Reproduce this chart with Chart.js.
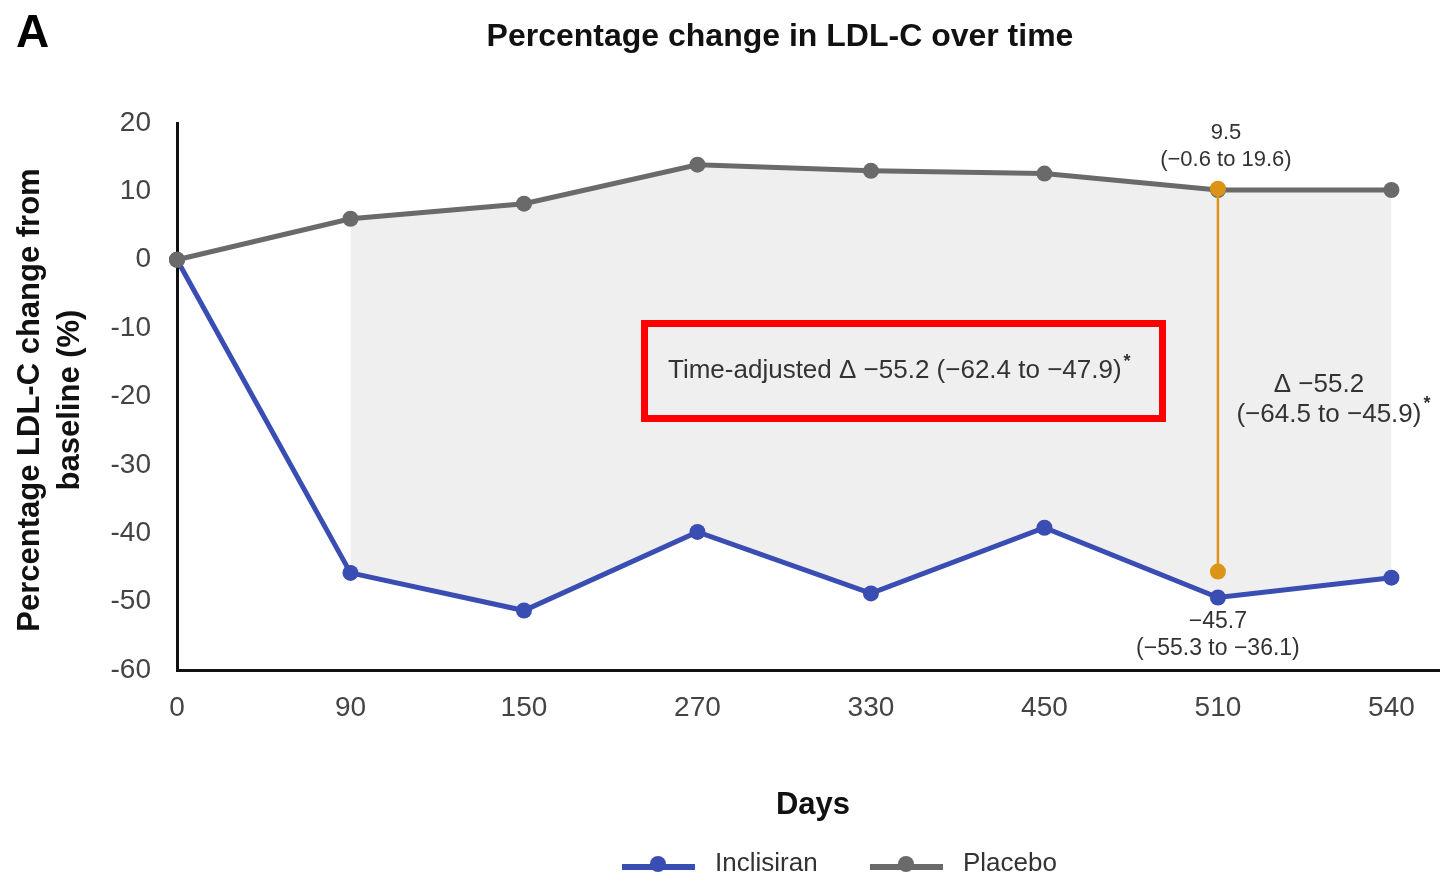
<!DOCTYPE html>
<html>
<head>
<meta charset="utf-8">
<script src="https://cdn.jsdelivr.net/npm/chart.js@4.4.1/dist/chart.umd.min.js"></script>
<style>
  html, body { margin: 0; padding: 0; background: #fff; }
  #graficoLdl { display: block; }
</style>
</head>
<body>
<canvas id="graficoLdl" width="1440" height="876"></canvas>
<script>
// Dados
const dias = ['0', '90', '150', '270', '330', '450', '510', '540'];
const inclisiran = [0, -45.8, -51.3, -39.8, -48.8, -39.2, -49.4, -46.5];
const placebo = [0, 6.0, 8.2, 13.9, 13.0, 12.6, 10.2, 10.2];
const diferencaIdx = 6;              // dia 510
const diferencaValores = [10.4, -45.6];
const yTicks = [20, 10, 0, -10, -20, -30, -40, -50, -60];

const corInclisiran = '#3a4db2';
const corPlacebo = '#6a6a6a';
const corLaranja = '#dc9416';
const fonte = '"Liberation Sans", Arial, sans-serif';

const pontos = arr => arr.map((y, i) => ({ x: i, y: y }));
// área sombreada começa no dia 90
const sombra = arr => arr.map((y, i) => ({ x: i, y: i === 0 ? null : y }));

// Textos e legenda desenhados à mão
const textosPlugin = {
  id: 'textos',
  afterDraw(chart) {
    const ctx = chart.ctx;
    const xs = chart.scales.x, ys = chart.scales.y;
    ctx.save();
    ctx.fillStyle = '#000';
    ctx.textBaseline = 'middle';

    // letra do painel
    ctx.font = 'bold 46px ' + fonte;
    ctx.textAlign = 'left';
    ctx.fillText('A', 16, 34);

    // título
    ctx.font = 'bold 32px ' + fonte;
    ctx.textAlign = 'center';
    ctx.fillStyle = '#111';
    ctx.fillText('Percentage change in LDL-C over time', 780, 37);

    // título eixo x
    ctx.font = 'bold 31px ' + fonte;
    ctx.fillText('Days', 813, 805);

    // título eixo y
    ctx.save();
    ctx.translate(30, 400);
    ctx.rotate(-Math.PI / 2);
    ctx.font = 'bold 31px ' + fonte;
    ctx.fillText('Percentage LDL-C change from', 0, 0);
    ctx.fillText('baseline (%)', 0, 40);
    ctx.restore();

    // anotações no dia 510
    const xd = xs.getPixelForValue(diferencaIdx);
    const yTopo = ys.getPixelForValue(diferencaValores[0]);
    const yBase = ys.getPixelForValue(diferencaValores[1]);
    ctx.fillStyle = '#333';
    ctx.font = '22px ' + fonte;
    ctx.fillText('9.5', xd + 8, yTopo - 56);
    ctx.fillText('(\u22120.6 to 19.6)', xd + 8, yTopo - 29);
    ctx.font = '23px ' + fonte;
    ctx.fillText('\u221245.7', xd, yBase + 50);
    ctx.fillText('(\u221255.3 to \u221236.1)', xd, yBase + 77);

    ctx.font = '26px ' + fonte;
    ctx.fillText('\u0394 \u221255.2', xd + 101, 385);
    const linha2 = '(\u221264.5 to \u221245.9)';
    ctx.fillText(linha2, xd + 111, 415);
    const w2 = ctx.measureText(linha2).width;
    ctx.font = 'bold 18px ' + fonte;
    ctx.textAlign = 'left';
    ctx.fillText('*', xd + 111 + w2 / 2 + 2, 404);

    // caixa vermelha
    ctx.strokeStyle = '#ff0000';
    ctx.lineWidth = 7;
    ctx.strokeRect(644.5, 323.5, 518, 95);
    ctx.font = '26px ' + fonte;
    ctx.fillStyle = '#333';
    ctx.textAlign = 'left';
    const txt = 'Time-adjusted \u0394 \u221255.2 (\u221262.4 to \u221247.9)';
    ctx.fillText(txt, 668, 371);
    const w = ctx.measureText(txt).width;
    ctx.font = 'bold 18px ' + fonte;
    ctx.fillText('*', 668 + w + 2, 362);

    // legenda
    const itens = [
      { nome: 'Inclisiran', cor: corInclisiran, x0: 622 },
      { nome: 'Placebo', cor: corPlacebo, x0: 870 }
    ];
    itens.forEach(it => {
      ctx.strokeStyle = it.cor;
      ctx.lineWidth = 6;
      ctx.beginPath();
      ctx.moveTo(it.x0, 867);
      ctx.lineTo(it.x0 + 73, 867);
      ctx.stroke();
      ctx.fillStyle = it.cor;
      ctx.beginPath();
      ctx.arc(it.x0 + 36, 864, 8, 0, Math.PI * 2);
      ctx.fill();
      ctx.fillStyle = '#333';
      ctx.font = '26px ' + fonte;
      ctx.textAlign = 'left';
      ctx.fillText(it.nome, it.x0 + 93, 864);
    });
    ctx.restore();
  }
};

new Chart(document.getElementById('graficoLdl'), {
  type: 'line',
  data: {
    datasets: [
      {
        label: 'Diferença',
        data: diferencaValores.map(v => ({ x: diferencaIdx, y: v })),
        borderColor: corLaranja,
        backgroundColor: corLaranja,
        borderWidth: 2.5,
        pointRadius: 8,
        pointBorderWidth: 0,
        order: 0
      },
      {
        label: 'Inclisiran',
        data: pontos(inclisiran),
        borderColor: corInclisiran,
        backgroundColor: corInclisiran,
        borderWidth: 5,
        pointRadius: 8,
        pointBorderWidth: 0,
        order: 2
      },
      {
        label: 'Placebo',
        data: pontos(placebo),
        borderColor: corPlacebo,
        backgroundColor: corPlacebo,
        borderWidth: 5,
        pointRadius: 8,
        pointBorderWidth: 0,
        order: 1
      },
      {
        label: 'sombraTopo',
        data: sombra(placebo),
        borderWidth: 0,
        borderColor: 'rgba(0,0,0,0)',
        pointRadius: 0,
        fill: '+1',
        backgroundColor: '#efefef',
        spanGaps: false,
        order: 10
      },
      {
        label: 'sombraBase',
        data: sombra(inclisiran),
        borderWidth: 0,
        borderColor: 'rgba(0,0,0,0)',
        pointRadius: 0,
        fill: false,
        order: 11
      }
    ]
  },
  options: {
    responsive: false,
    animation: false,
    clip: false,
    layout: { autoPadding: false, padding: { top: 123, right: 0, bottom: 0, left: 0 } },
    plugins: {
      legend: { display: false },
      tooltip: { enabled: false },
      title: { display: false }
    },
    scales: {
      x: {
        type: 'linear',
        min: 0,
        max: 7.28,
        grid: { display: false },
        border: { display: true, color: '#111', width: 3 },
        afterBuildTicks: s => { s.ticks = dias.map((_, i) => ({ value: i })); },
        afterFit: s => { s.height = 206; s.paddingLeft = 0; s.paddingRight = 0; },
        ticks: {
          padding: 13,
          color: '#444',
          font: { family: fonte, size: 28 },
          maxRotation: 0,
          callback: v => dias[v]
        }
      },
      y: {
        min: -60,
        max: 20,
        grid: { display: false },
        border: { display: true, color: '#111', width: 3 },
        afterBuildTicks: s => { s.ticks = yTicks.map(v => ({ value: v })); },
        afterFit: s => { s.width = 177; s.paddingTop = 0; s.paddingBottom = 0; },
        ticks: {
          padding: 18,
          color: '#444',
          font: { family: fonte, size: 28 }
        }
      }
    }
  },
  plugins: [textosPlugin]
});
</script>
</body>
</html>
